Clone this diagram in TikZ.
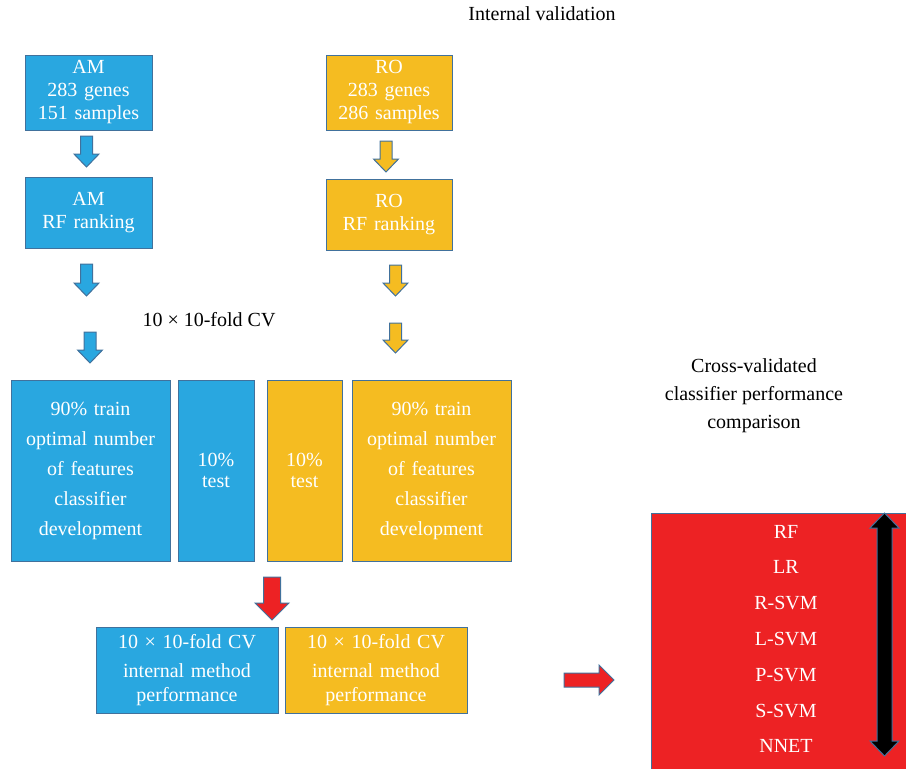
\documentclass[tikz,border=0pt]{standalone}
\usepackage{fontspec}
\setmainfont{Liberation Serif}
\usetikzlibrary{positioning}
\definecolor{amblue}{HTML}{29A7E0}
\definecolor{roorange}{HTML}{F5BC21}
\definecolor{methred}{HTML}{ED2224}
\definecolor{edgeblue}{HTML}{41719C}
\tikzset{
  box/.style={draw=edgeblue, line width=1pt, text=white, inner sep=0pt, align=center,
    font=\fontsize{20}{23}\selectfont},
  bigbox/.style={box, minimum height=181pt, font=\fontsize{20}{30}\selectfont},
  label/.style={inner sep=0pt, align=center, font=\fontsize{20}{28}\selectfont},
  arrline/.style={draw=edgeblue, line width=1pt, line join=miter},
}

\begin{document}
\begin{tikzpicture}[x=1pt, y=-1pt]
	 \useasboundingbox (0,0) rectangle (906,769);
	 % Ueberschrift
	 \node[label] (title) at (542,14) {Internal validation};
	 % AM Spalte
	 \node[box, fill=amblue, minimum width=127pt, text width=127pt, minimum height=75pt] (am) at (88.5,92.5) {AM\\283 genes\\151 samples};
	 \node[box, fill=amblue, minimum width=127pt, text width=127pt, minimum height=71pt] (amrank) at (88.5,212.5) {AM\\RF ranking};
	 % RO Spalte
	 \node[box, fill=roorange, minimum width=126pt, text width=126pt, minimum height=75pt] (ro) at (389,92.5) {RO\\283 genes\\286 samples};
	 \node[box, fill=roorange, minimum width=126pt, text width=126pt, minimum height=71pt] (rorank) at (389,214.5) {RO\\RF ranking};
	 \node[label] (cv) at (209,320) {10 × 10-fold CV};
	 % Aufteilung train/test
	 \node[bigbox, fill=amblue, minimum width=159pt, text width=159pt] (amtrain) at (90.5,470.5) {90\% train\\optimal number\\of features\\classifier\\development};
	 \node[bigbox, fill=amblue, minimum width=76pt, text width=76pt, font=\fontsize{20}{21}\selectfont, right=7pt of amtrain] (amtest) {10\%\\test};
	 \node[bigbox, fill=roorange, minimum width=75pt, text width=75pt, font=\fontsize{20}{21}\selectfont] (rotest) at (304.5,470.5) {10\%\\test};
	 \node[bigbox, fill=roorange, minimum width=159pt, text width=159pt, right=9pt of rotest] (rotrain) {90\% train\\optimal number\\of features\\classifier\\development};
	 % Ergebnis der Kreuzvalidierung
	 \node[box, fill=amblue, minimum width=182pt, text width=182pt, minimum height=86pt, font=\fontsize{20}{24}\selectfont] (amcv) at (187,670) {10 × 10-fold CV\\[5pt]internal method\\performance};
	 \node[box, fill=roorange, minimum width=182pt, text width=182pt, minimum height=86pt, font=\fontsize{20}{24}\selectfont, right=6pt of amcv] (rocv) {10 × 10-fold CV\\[5pt]internal method\\performance};
	 % Vergleich
	 \node[label] (cross) at (754,396) {Cross-validated\\classifier performance\\comparison};
	 \node[box, fill=methred, minimum width=259pt, minimum height=262pt] (methods) at (780.5,644) {};
	 \node[label, text=white, font=\fontsize{20}{35.8}\selectfont] (list) at (786,639) {RF\\LR\\R-SVM\\L-SVM\\P-SVM\\S-SVM\\NNET};
	 % Blockpfeile nach unten
	 \foreach \cx/\yt/\yb/\col in {86.5/136/167/amblue, 86.5/264/296/amblue, 90/332/363/amblue,
	   386/141/172/roorange, 395.5/265/296/roorange, 395.5/323/353/roorange}
	 \draw[arrline, fill=\col] (\cx-6,\yt) -- (\cx+6,\yt) -- (\cx+6,\yb-13) -- (\cx+12.5,\yb-13)
	   -- (\cx,\yb) -- (\cx-12.5,\yb-13) -- (\cx-6,\yb-13) -- cycle;
	 % roter Pfeil nach unten
	 \draw[arrline, fill=methred] (263.5,577) -- (280.5,577) -- (280.5,603) -- (289,603) -- (272,620)
	   -- (255,603) -- (263.5,603) -- cycle;
	 % roter Pfeil nach rechts
	 \draw[arrline, fill=methred] (564,673) -- (599,673) -- (599,665) -- (614,680) -- (599,695)
	   -- (599,687) -- (564,687) -- cycle;
	 % schwarzer Doppelpfeil
	 \draw[arrline, fill=black] (884.5,513) -- (899,528) -- (892,528) -- (892,741) -- (899,741)
	   -- (884.5,756) -- (870,741) -- (877,741) -- (877,528) -- (870,528) -- cycle;
\end{tikzpicture}
\end{document}
